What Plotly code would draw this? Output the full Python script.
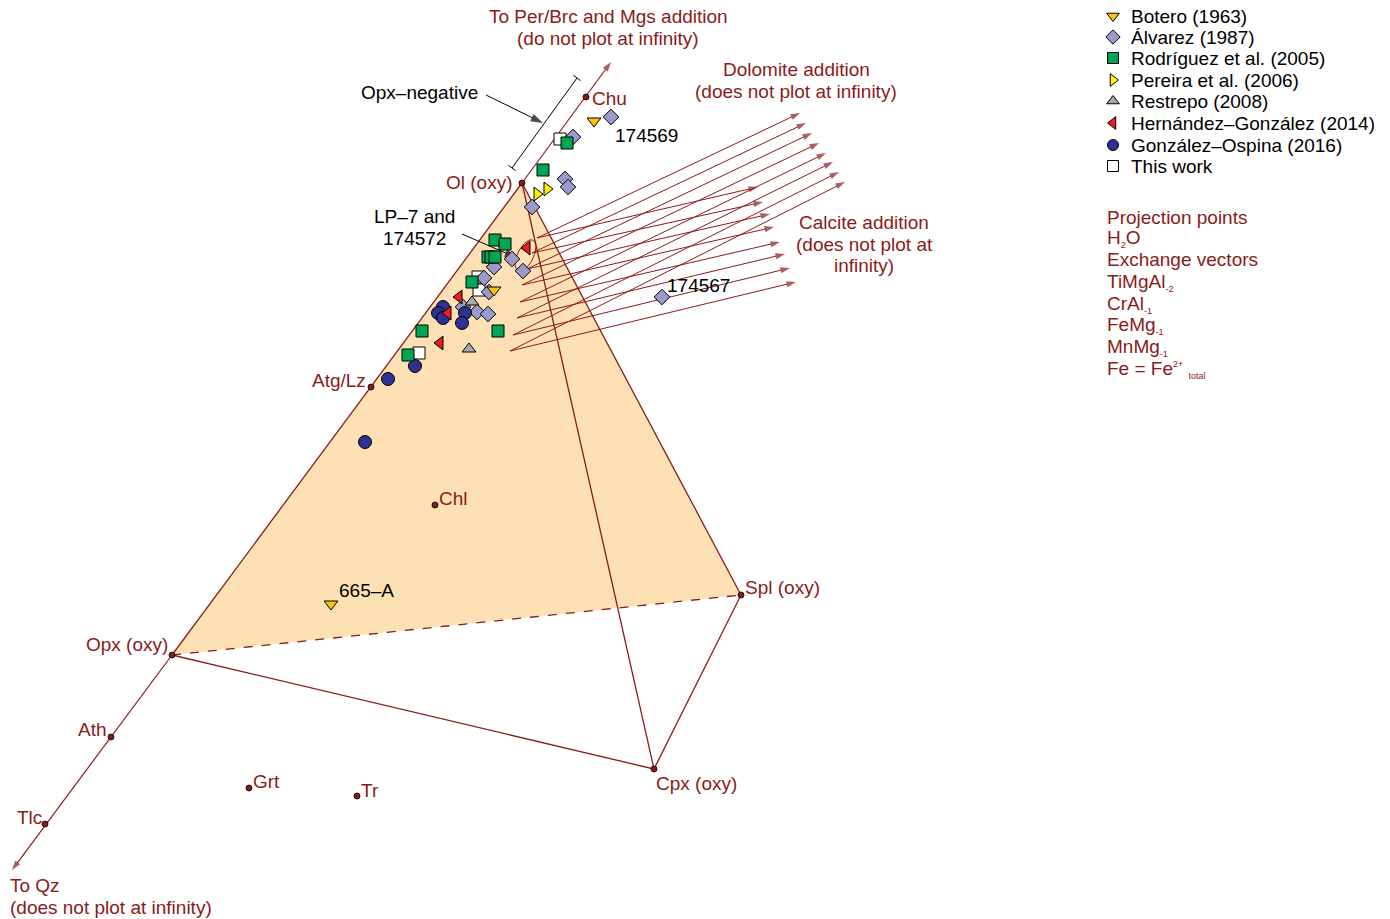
import numpy as np
import plotly.graph_objects as go

# ---------------- data (diagram coordinates) ----------------
# projection nodes: name, x, y
node_names = ["Ol (oxy)", "Chu", "Atg/Lz", "Chl", "Spl (oxy)", "Opx (oxy)", "Ath", "Tlc", "Cpx (oxy)", "Grt", "Tr"]
node_x = [522, 586, 371, 435, 741, 172, 111, 45, 654, 249, 357]
node_y = [183, 97, 387, 505, 595, 655, 737, 824, 769, 788, 796]

series_names = ["Botero (1963)", "Álvarez (1987)", "Rodríguez et al. (2005)", "Pereira et al. (2006)",
                "Restrepo (2008)", "Hernández–González (2014)", "González–Ospina (2016)", "This work"]

botero_x = [594, 494, 331]
botero_y = [121, 290, 604]
alvarez_x = [611, 573, 565, 568, 532, 512, 523, 494, 484, 489, 463, 477, 488, 662]
alvarez_y = [117, 137, 179, 187, 207, 259, 271, 267, 278, 292, 307, 312, 314, 297]
rodriguez_x = [543, 567, 495, 505, 488, 491, 495, 472, 422, 498, 408]
rodriguez_y = [170, 143, 240, 244, 257, 257, 257, 282, 331, 331, 355]
pereira_x = [537, 547]
pereira_y = [194, 189]
restrepo_x = [472, 469]
restrepo_y = [302, 349]
hernandez_x = [527, 459, 448, 440]
hernandez_y = [248, 297, 313, 343]
gonzalez_x = [443, 438, 443, 465, 462, 415, 388, 365]
gonzalez_y = [307, 313, 318, 313, 323, 366, 379, 442]
thiswork_x = [560, 478, 479, 419]
thiswork_y = [139, 277, 290, 353]

# dolomite / calcite addition vectors
vec_start_x = [537, 532, 527, 522, 520, 517, 513, 510]
vec_start_y = [238, 253, 269, 285, 302, 318, 335, 351]
dol_end_x = [800, 806, 812, 819, 826, 833, 839, 845]
dol_end_y = [113, 123, 133, 143, 153, 162, 172, 182]
cal_end_x = [758, 763, 770, 774, 780, 785, 790, 796]
cal_end_y = [187, 202, 214, 227, 242, 254, 268, 282]

RED = "#8B1A1A"
FILL = "#FDE1B5"
FONT = "Liberation Sans, Arial, sans-serif"
FS = 19

N = dict(zip(node_names, zip(node_x, node_y)))

fig = go.Figure()

# filled Ol-Opx-Spl triangle
tri = ["Ol (oxy)", "Opx (oxy)", "Spl (oxy)", "Ol (oxy)"]
fig.add_trace(go.Scatter(x=[N[n][0] for n in tri], y=[N[n][1] for n in tri], mode="lines",
                         fill="toself", fillcolor=FILL, line=dict(width=0), hoverinfo="skip", showlegend=False))

def seg(a, b, dash="solid", color=RED, width=1.3):
    fig.add_trace(go.Scatter(x=[a[0], b[0]], y=[a[1], b[1]], mode="lines",
                             line=dict(color=color, width=width, dash=dash), hoverinfo="skip", showlegend=False))

seg(N["Ol (oxy)"], N["Opx (oxy)"])
seg(N["Ol (oxy)"], N["Spl (oxy)"])
seg(N["Opx (oxy)"], N["Spl (oxy)"], dash="dash")
seg(N["Opx (oxy)"], N["Cpx (oxy)"])
seg(N["Cpx (oxy)"], N["Spl (oxy)"])
seg(N["Ol (oxy)"], N["Cpx (oxy)"])

annotations = []

def arrow(x0, y0, x1, y1, color=RED, width=1, size=10):
    fig.add_trace(go.Scatter(x=[x0, x1], y=[y0, y1], mode="lines+markers",
                             line=dict(color=color, width=width),
                             marker=dict(symbol="arrow", size=[0, size], angleref="previous", color=color,
                                         line=dict(width=0)),
                             hoverinfo="skip", showlegend=False))

# arrows to infinity
arrow(N["Ol (oxy)"][0], N["Ol (oxy)"][1], 611, 62, width=1.2)
arrow(N["Opx (oxy)"][0], N["Opx (oxy)"][1], 12, 870, width=1.2)

for i in range(len(vec_start_x)):
    arrow(vec_start_x[i], vec_start_y[i], dol_end_x[i], dol_end_y[i], width=1)
    arrow(vec_start_x[i], vec_start_y[i], cal_end_x[i], cal_end_y[i], width=1)

# ellipse around two samples
t = np.linspace(0, 2 * np.pi, 80)
ecx, ecy, ea, eb, ang = 525.5, 255.5, 17, 8, np.deg2rad(-64)
ex = ecx + ea * np.cos(t) * np.cos(ang) - eb * np.sin(t) * np.sin(ang)
ey = ecy + ea * np.cos(t) * np.sin(ang) + eb * np.sin(t) * np.cos(ang)
fig.add_trace(go.Scatter(x=ex, y=ey, mode="lines", line=dict(color=RED, width=1),
                         hoverinfo="skip", showlegend=False))

# Opx-negative bracket
bx0, by0, bx1, by1 = 577, 78, 512, 168
seg((bx0, by0), (bx1, by1), color="black", width=1)
d = np.array([bx1 - bx0, by1 - by0], float)
d /= np.linalg.norm(d)
p = np.array([-d[1], d[0]]) * 4.5
for (cx, cy) in [(bx0, by0), (bx1, by1)]:
    seg((cx - p[0], cy - p[1]), (cx + p[0], cy + p[1]), color="black", width=1)
arrow(486, 95, 543, 123, color="black", width=1, size=13)
arrow(462, 234, 517, 258, color="black", width=1, size=13)

# nodes
fig.add_trace(go.Scatter(x=node_x, y=node_y, mode="markers",
                         marker=dict(size=6, color=RED, line=dict(color="black", width=0.8)),
                         hoverinfo="skip", showlegend=False))

# data series
styles = [
    (botero_x, botero_y, "triangle-down", "#FFC20E", 12),
    (alvarez_x, alvarez_y, "diamond", "#9A9ACB", 12),
    (rodriguez_x, rodriguez_y, "square", "#00A651", 12),
    (pereira_x, pereira_y, "triangle-right", "#FFF200", 12),
    (restrepo_x, restrepo_y, "triangle-up", "#A7A9AC", 12),
    (hernandez_x, hernandez_y, "triangle-left", "#ED1C24", 12),
    (gonzalez_x, gonzalez_y, "circle", "#2E3192", 13),
    (thiswork_x, thiswork_y, "square", "#FFFFFF", 12),
]
draw_order = [7, 1, 0, 3, 4, 6, 5, 2]
for k in draw_order:
    xs, ys, sym, col, sz = styles[k]
    fig.add_trace(go.Scatter(x=xs, y=ys, mode="markers", name=series_names[k],
                             marker=dict(symbol=sym, size=sz, color=col, line=dict(color="black", width=1)),
                             showlegend=False))

def txt(x, y, s, anchor="left", color=RED, size=FS):
    dx = {"left": -2, "right": 2, "center": 0}[anchor]
    annotations.append(dict(x=x + dx, y=y, text=s, xanchor=anchor, yanchor="middle", showarrow=False,
                            font=dict(size=size, color=color, family=FONT)))

# manual legend
leg_y = [16, 37, 58, 80, 101, 123, 145, 166]
for k, (xs, ys, sym, col, sz) in enumerate(styles):
    fig.add_trace(go.Scatter(x=[1113], y=[leg_y[k]], mode="markers", hoverinfo="skip",
                             marker=dict(symbol=sym, size=11, color=col, line=dict(color="black", width=1)),
                             showlegend=False))
    txt(1131, leg_y[k], series_names[k], color="black")

# node labels
txt(513, 182, "Ol (oxy)", "right")
txt(592, 98, "Chu")
txt(366, 380, "Atg/Lz", "right")
txt(439, 498, "Chl")
txt(745, 587, "Spl (oxy)")
txt(168, 644, "Opx (oxy)", "right")
txt(107, 729, "Ath", "right")
txt(42, 817, "Tlc", "right")
txt(656, 783, "Cpx (oxy)")
txt(253, 781, "Grt")
txt(361, 790, "Tr")
txt(10, 885, "To Qz")
txt(10, 907, "(does not plot at infinity)")
txt(608, 16, "To Per/Brc and Mgs addition", "center")
txt(608, 38, "(do not plot at infinity)", "center")
txt(796, 69, "Dolomite addition", "center")
txt(796, 91, "(does not plot at infinity)", "center")
txt(864, 222, "Calcite addition", "center")
txt(864, 244, "(does not plot at", "center")
txt(864, 265, "infinity)", "center")

# sample labels (black)
txt(419, 92, "Opx–negative", "center", color="black")
txt(414, 216, "LP–7 and", "center", color="black")
txt(414, 238, "174572", "center", color="black")
txt(615, 135, "174569", color="black")
txt(667, 285, "174567", color="black")
txt(339, 590, "665–A", color="black")

# right-hand notes
def small(s):
    return "<span style='font-size:9px'>" + s + "</span>"

notes = ["Projection points", "H<sub>" + small("2") + "</sub>O", "Exchange vectors",
         "TiMgAl<sub>" + small("-2") + "</sub>", "CrAl<sub>" + small("-1") + "</sub>",
         "FeMg<sub>" + small("-1") + "</sub>", "MnMg<sub>" + small("-1") + "</sub>",
         "Fe = Fe<sup>" + small("2+") + "</sup> <sub>" + small("total") + "</sub>"]
notes_y = [217, 238, 259, 282, 304, 325, 347, 369]
for s, yy in zip(notes, notes_y):
    txt(1107, yy, s)

fig.update_layout(
    width=1390, height=919, margin=dict(l=0, r=0, t=0, b=0),
    paper_bgcolor="white", plot_bgcolor="white",
    xaxis=dict(range=[0, 1390], visible=False, fixedrange=True),
    yaxis=dict(range=[919, 0], visible=False, fixedrange=True),
    annotations=annotations, showlegend=False,
    font=dict(family=FONT),
)
fig.write_html("out.html")
